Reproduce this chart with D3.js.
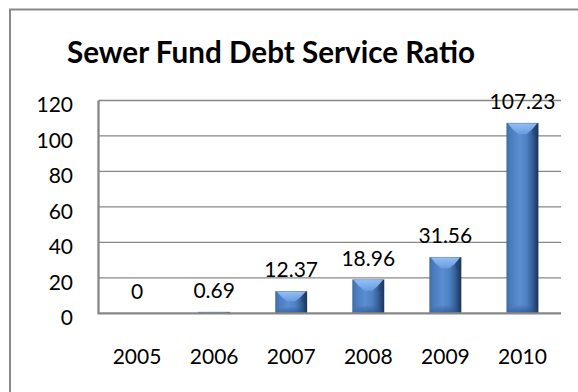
<!DOCTYPE html>
<html>
<head>
<meta charset="utf-8">
<script src="https://cdn.jsdelivr.net/npm/d3@7"></script>
<style>
  html, body { margin: 0; padding: 0; background: #fff; }
  svg { display: block; }
  text { font-family: Lato, "Open Sans", sans-serif; fill: #000; }
</style>
</head>
<body>
<svg id="chart" width="578" height="392"></svg>
<script>
// Sewer fund debt service ratio by year
const years = ["2005", "2006", "2007", "2008", "2009", "2010"];
const ratios = [0, 0.69, 12.37, 18.96, 31.56, 107.23];
const valueLabels = ["0", "0.69", "12.37", "18.96", "31.56", "107.23"];
const yTicks = [0, 20, 40, 60, 80, 100, 120];
const title = "Sewer Fund Debt Service Ratio";

const W = 578, H = 392;
const plot = { left: 98.5, right: 561, top: 100.5, bottom: 313.3 };

const svg = d3.select("#chart");
const defs = svg.append("defs");

// Horizontal shading across each column
const side = defs.append("linearGradient").attr("id", "barSide")
  .attr("x1", "0").attr("x2", "1").attr("y1", "0").attr("y2", "0");
[["0%", "#3f6dab"], ["12%", "#4a7cbd"], ["40%", "#5a8ed2"], ["62%", "#4f82c3"],
 ["82%", "#345f97"], ["100%", "#1a3356"]].forEach(([o, c]) =>
  side.append("stop").attr("offset", o).attr("stop-color", c));

// Highlight on the bevelled top
const cap = defs.append("linearGradient").attr("id", "barCap")
  .attr("x1", "0").attr("x2", "0").attr("y1", "0").attr("y2", "1");
[["0%", "#9cc6ff"], ["100%", "#6a9ee0"]].forEach(([o, c]) =>
  cap.append("stop").attr("offset", o).attr("stop-color", c));

// Dark shading at the foot of each column
const foot = defs.append("radialGradient").attr("id", "barFoot")
  .attr("cx", "0.5").attr("cy", "1").attr("r", "0.6");
[["0%", "#1e3a63", 0.55], ["70%", "#2a4d80", 0.25], ["100%", "#2a4d80", 0]].forEach(([o, c, a]) =>
  foot.append("stop").attr("offset", o).attr("stop-color", c).attr("stop-opacity", a));

// Chart frame
svg.append("path")
  .attr("d", `M10,${H + 5} L10,9.5 L${W + 5},9.5`)
  .attr("fill", "none").attr("stroke", "#898989").attr("stroke-width", 2);

// Title
svg.append("text")
  .attr("x", 67).attr("y", 63)
  .attr("textLength", 408).attr("lengthAdjust", "spacingAndGlyphs")
  .style("font-size", "30px").style("font-weight", "bold")
  .text(title);

const x = d3.scaleBand().domain(years).range([plot.left, plot.right]).paddingInner(0.59).paddingOuter(0.295);
const y = d3.scaleLinear().domain([0, 120]).range([plot.bottom, plot.top]);

// Gridlines
svg.append("g").selectAll("line").data(yTicks.filter(t => t > 0)).join("line")
  .attr("x1", plot.left).attr("x2", plot.right)
  .attr("y1", d => y(d)).attr("y2", d => y(d))
  .attr("stroke", "#878787").attr("stroke-width", 1.3);

// Y axis labels
const yAxis = d3.axisLeft(y).tickValues(yTicks).tickSize(0).tickPadding(0);
const gy = svg.append("g").attr("transform", "translate(73,4.7)").call(yAxis);
gy.select(".domain").remove();
gy.selectAll("text").style("font-size", "21px").style("font-family", "Lato, 'Open Sans', sans-serif").attr("fill", "#000");

// X axis labels
const xAxis = d3.axisBottom(x).tickSize(0).tickPadding(0);
const gx = svg.append("g").attr("transform", `translate(0,${plot.bottom + 36})`).call(xAxis);
gx.select(".domain").remove();
gx.selectAll("text").style("font-size", "21px").style("font-family", "Lato, 'Open Sans', sans-serif").attr("fill", "#000");

// Columns
const bars = svg.append("g").selectAll("g").data(years.map((yr, i) => ({ yr, v: ratios[i], label: valueLabels[i] })))
  .join("g");

bars.filter(d => d.v > 0).each(function (d) {
  const g = d3.select(this);
  const x0 = x(d.yr), bw = x.bandwidth(), x1 = x0 + bw, cx = x0 + bw / 2;
  const top = y(d.v), h = plot.bottom - top;
  g.append("rect").attr("x", x0).attr("y", top).attr("width", bw).attr("height", h)
    .attr("fill", "url(#barSide)");
  const b = Math.min(11, h * 0.45);
  // bevelled top: light V-shaped face
  g.append("path")
    .attr("d", `M${x0 + 1},${top} L${x1 - 1},${top} L${x1 - 6},${top + b * 0.55} L${cx + 4},${top + b} L${cx - 4},${top + b} L${x0 + 6},${top + b * 0.55} Z`)
    .attr("fill", "url(#barCap)").attr("opacity", 0.9);
  // darker side facets of the bevel
  g.append("path")
    .attr("d", `M${x1},${top} L${x1 - 6},${top + b * 0.55} L${x1 - 6},${top + b} L${x1},${top + b + 2} Z`)
    .attr("fill", "#1f3c66").attr("opacity", 0.35);
  // foot shading
  const fh = Math.min(14, h * 0.5);
  g.append("rect").attr("x", x0).attr("y", plot.bottom - fh).attr("width", bw).attr("height", fh)
    .attr("fill", "url(#barFoot)");
  g.append("rect").attr("x", x0).attr("y", top).attr("width", bw).attr("height", h)
    .attr("fill", "none").attr("stroke", "#2b4f80").attr("stroke-opacity", 0.35).attr("stroke-width", 0.8);
});

// Value labels
bars.append("text")
  .attr("x", d => x(d.yr) + x.bandwidth() / 2)
  .attr("y", d => y(d.v) - 14)
  .attr("text-anchor", "middle")
  .style("font-size", "21px")
  .text(d => d.label);

// Axis lines
svg.append("path")
  .attr("d", `M${plot.left},${plot.top} L${plot.left},${plot.bottom} L${plot.right},${plot.bottom}`)
  .attr("fill", "none").attr("stroke", "#878787").attr("stroke-width", 2.3);
</script>
</body>
</html>
